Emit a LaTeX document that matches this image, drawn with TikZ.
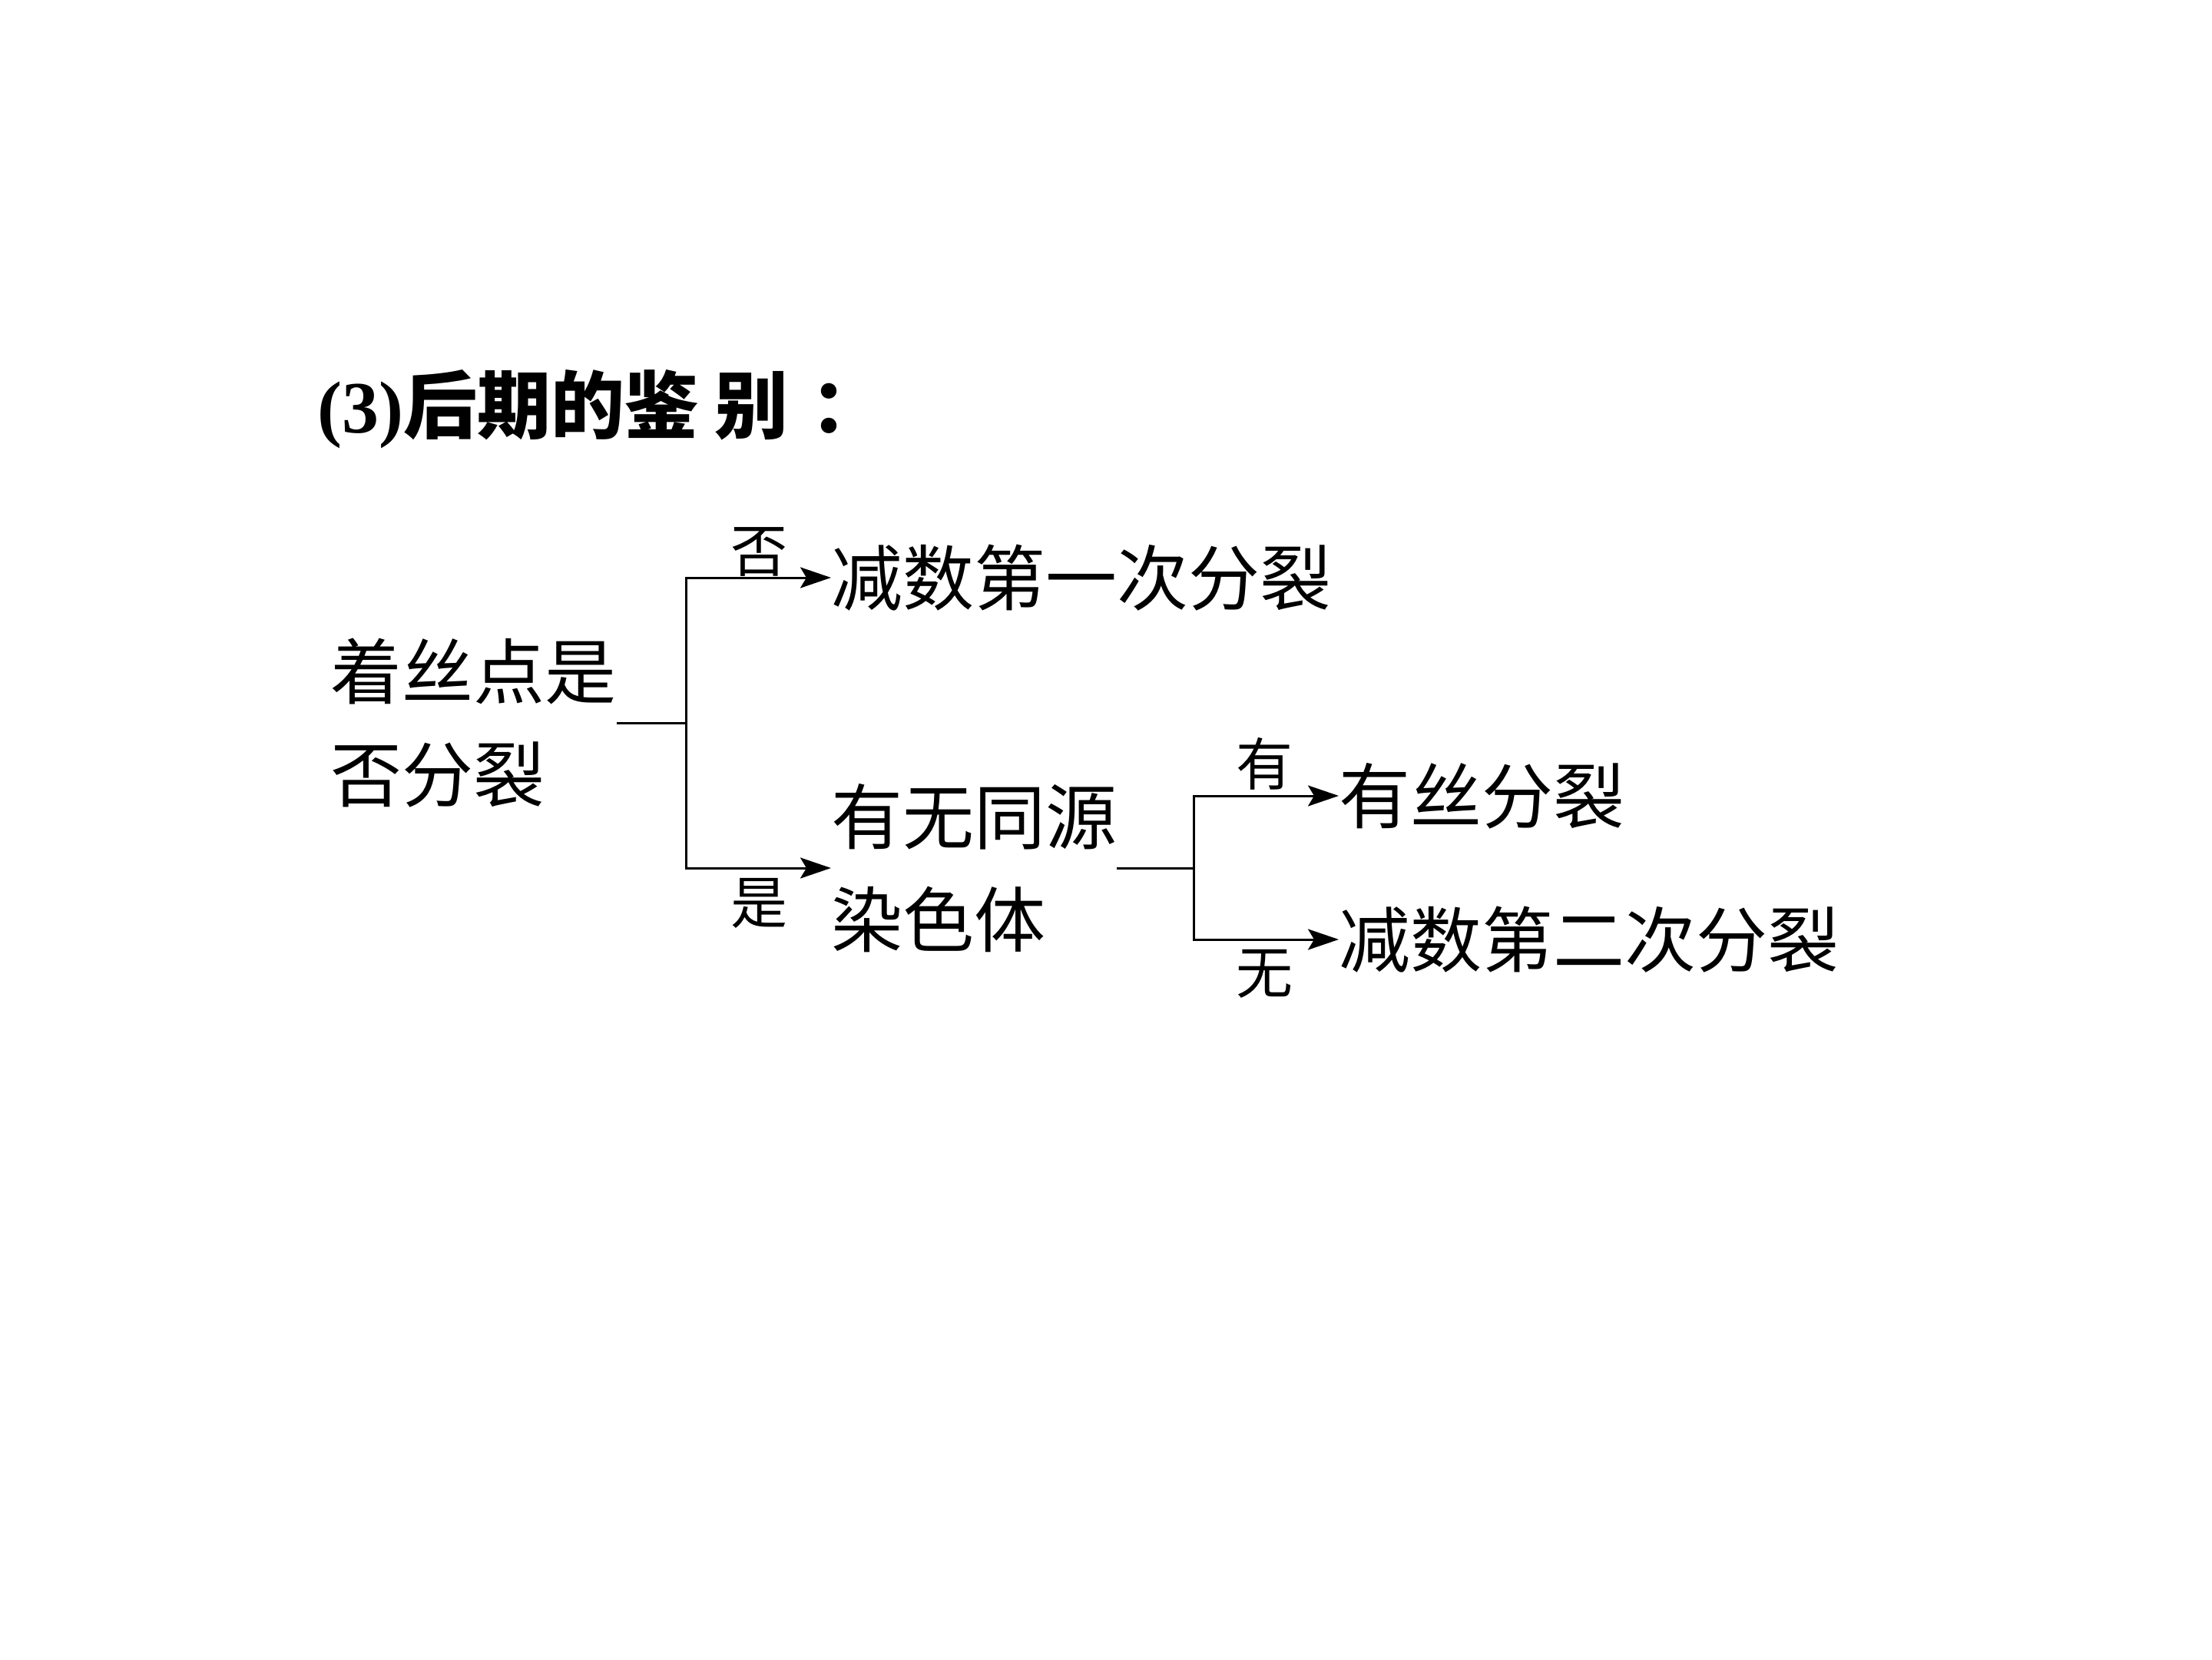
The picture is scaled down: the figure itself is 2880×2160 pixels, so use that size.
\documentclass[tikz,border=0pt]{standalone}
\usepackage{fontspec}
\setmainfont{Liberation Serif}
\newfontfamily\cjk{Noto Sans CJK SC}
\usetikzlibrary{arrows.meta}
\tikzset{
  main/.style={inner sep=0pt, font=\cjk\fontsize{93}{134}\selectfont, text height=82pt, text depth=11pt},
  twoline/.style={inner sep=0pt, font=\cjk\fontsize{93}{134}\selectfont, text height=82pt, text depth=145pt},
  lab/.style={inner sep=0pt, font=\cjk\fontsize{74}{80}\selectfont, text height=65pt, text depth=9pt},
  conn/.style={line width=3pt, black},
  arr/.style={conn, -{Stealth[length=40pt,width=27pt,inset=8pt]}}
}
\newcommand{\twolines}[2]{\vtop{\baselineskip=134pt\hbox{#1}\hbox{#2}}}
\begin{document}
\begin{tikzpicture}[x=1pt,y=-1pt]
\useasboundingbox (0,0) rectangle (2880,2160);
\fill[white] (0,0) rectangle (2880,2160);
% title
\node[inner sep=0pt, anchor=west, font=\bfseries\fontsize{96}{100}\selectfont, text height=84pt, text depth=12pt] (title) at (413,527)
  {(3){\cjk 后期的鉴}\hspace{0.22em}{\cjk 别}\hspace{0.3em}{\cjk ：}};
% nodes
\node[twoline, anchor=east] (root) at (803,941) {\twolines{着丝点是}{否分裂}};
\coordinate (b1) at (893,941);
\node[main, anchor=west] (n1) at (1082,752) {减数第一次分裂};
\node[twoline, anchor=west] (n2) at (1082,1130) {\twolines{有无同源}{染色体}};
\coordinate (b2) at (1554,1130);
\node[main, anchor=west] (n3) at (1743,1036) {有丝分裂};
\node[main, anchor=west] (n4) at (1743,1223) {减数第二次分裂};
% labels
\node[lab] (lno) at (988,716) {否};
\node[lab] (lyes) at (988,1174) {是};
\node[lab] (lyou) at (1646,994) {有};
\node[lab] (lwu) at (1646,1265) {无};
% connectors
\draw[conn] (root.east) -- (b1);
\draw[arr] (b1) |- (n1.west);
\draw[arr] (b1) |- (n2.west);
\draw[conn] (n2.east) -- (b2);
\draw[arr] (b2) |- (n3.west);
\draw[arr] (b2) |- (n4.west);
\end{tikzpicture}
\end{document}
